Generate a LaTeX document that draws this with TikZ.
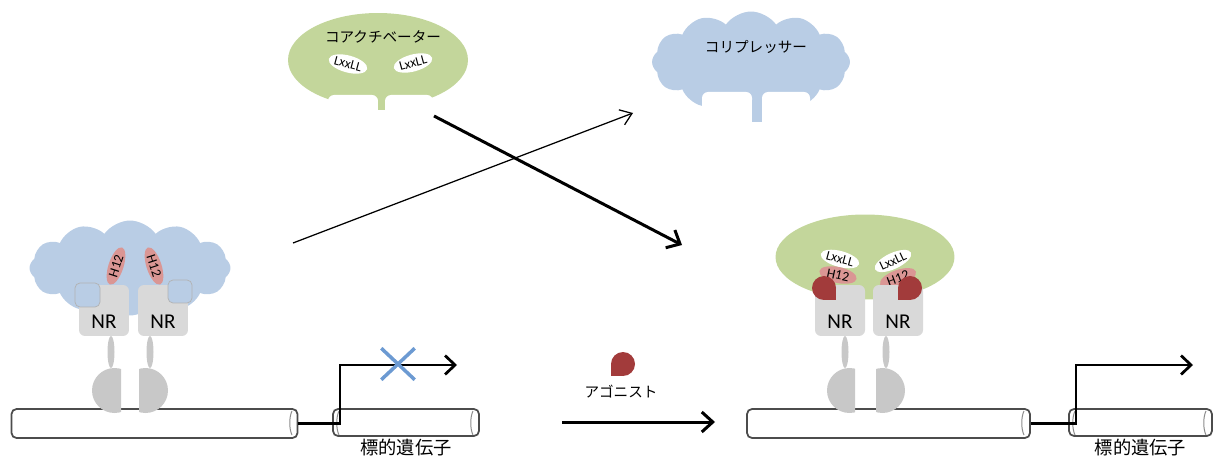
\documentclass[tikz,border=0pt]{standalone}
\usepackage{fontspec}
\setmainfont{Carlito}
\newfontfamily\jp{Noto Sans CJK JP}
\usepackage{xcolor}
\usetikzlibrary{shapes.geometric,shapes.symbols,shapes.misc,arrows.meta,positioning}
\definecolor{crblue}{HTML}{B9CDE5}
\definecolor{cagreen}{HTML}{C3D69B}
\definecolor{helixred}{HTML}{DA9694}
\definecolor{ligand}{HTML}{A23B3B}
\definecolor{nrgray}{HTML}{D9D9D9}
\definecolor{dbdgray}{HTML}{C8C8C8}
\definecolor{crossblue}{HTML}{6C9AD2}

\begin{document}
\begin{tikzpicture}[x=0.02cm, y=-0.02cm,
    every node/.style={inner sep=0pt},
    cloudy/.style={cloud, cloud puffs=12, cloud puff arc=110, cloud ignores aspect, fill=crblue},
    nrbox/.style={fill=nrgray, rounded corners=0.12cm, minimum width=1cm, minimum height=1.02cm,
        font=\fontsize{12}{12}\selectfont, text height=0.74cm, text depth=0pt},
    helix/.style={ellipse, fill=helixred, minimum width=0.78cm, minimum height=0.3cm,
        font=\fontsize{7.8}{8}\selectfont},
    motif/.style={ellipse, fill=white, minimum width=0.76cm, minimum height=0.34cm,
        font=\fontsize{7.5}{8}\selectfont},
    dna/.style={draw=black!70, fill=white, line width=0.035cm, rounded corners=0.1cm, minimum height=0.58cm},
    jptext/.style={font=\jp\fontsize{8.3}{10}\selectfont},
    genetext/.style={font=\jp\fontsize{10.4}{12}\selectfont, inner sep=1pt},
    bigarrow/.style={line width=0.06cm, -{Straight Barb[length=0.22cm, width=0.4cm]}},
    thinarrow/.style={line width=0.025cm, -{Straight Barb[length=0.22cm, width=0.32cm]}},
    promoter/.style={line width=0.055cm, -{Straight Barb[length=0.2cm, width=0.38cm]}}]
    \useasboundingbox (0,0) rectangle (1214,459);

    % coactivator
    \node[ellipse, fill=cagreen, minimum width=3.6cm, minimum height=1.88cm] (coact) at (378,60) {};
    \fill[white, rounded corners=0.12cm] (328,114) -- (328,95) -- (378,95) -- (378,114);
    \fill[white, rounded corners=0.12cm] (385,114) -- (385,95) -- (433,95) -- (433,114);
    \fill[cagreen] (378,100) rectangle (385,110);
    \node[jptext] (coacttext) at (383,37) {コアクチベーター};
    \node[motif, rotate=-15] (ca1) at (348,64) {LxxLL};
    \node[motif, rotate=15] (ca2) at (413,63) {LxxLL};

    % corepressor
    \node[cloudy, minimum width=3.96cm, minimum height=2.02cm] (corep) at (751,62) {};
    \fill[white, rounded corners=0.12cm] (702,126) -- (702,92) -- (752,92) -- (752,126);
    \fill[white, rounded corners=0.12cm] (762,126) -- (762,92) -- (810,92) -- (810,126);
    \fill[crblue] (752,100) rectangle (762,122);
    \node[jptext] (coreptext) at (756,47) {コリプレッサー};

    % crossing arrows
    \coordinate (caout) at (434,116);
    \coordinate (caend) at (682,245);
    \coordinate (crout) at (293,243);
    \coordinate (crend) at (633,113);
    \draw[thinarrow] (crout) -- (crend);
    \draw[bigarrow] (caout) -- (caend);

    % receptor dimer with corepressor
    \node[cloudy, minimum width=4.02cm, minimum height=1.9cm] (crL) at (130,268) {};
    \node[helix, rotate=72] (h12a) at (116,266) {H12};
    \node[helix, rotate=-72] (h12b) at (154,266) {H12};
    \node[nrbox] (nrA) at (104,310.5) {NR};
    \node[nrbox] (nrB) at (163,310.5) {NR};
    \filldraw[fill=crblue, draw=black!30, rounded corners=0.1cm] (75,283) rectangle (100,307);
    \filldraw[fill=crblue, draw=black!30, rounded corners=0.1cm] (168,280) rectangle (192,303);

    % receptor dimer with agonist and coactivator
    \node[ellipse, fill=cagreen, minimum width=3.58cm, minimum height=1.7cm] (coactR) at (865,257) {};
    \node[motif, minimum width=0.72cm, minimum height=0.32cm, rotate=-15] (mc) at (840,259) {LxxLL};
    \node[motif, minimum width=0.72cm, minimum height=0.32cm, rotate=25] (md) at (893,261) {LxxLL};
    \node[helix, minimum width=0.76cm, minimum height=0.32cm, rotate=-12] (h12c) at (838,275) {H12};
    \node[helix, minimum width=0.76cm, minimum height=0.32cm, rotate=20] (h12d) at (898,278) {H12};
    \node[nrbox] (nrC) at (840,310.5) {NR};
    \node[nrbox] (nrD) at (898,310.5) {NR};
    \fill[ligand] (824,288) circle (12);
    \fill[ligand] (824,288) rectangle (836,300);
    \fill[ligand] (910,288) circle (12);
    \fill[ligand] (910,288) rectangle (898,300);

    % DNA
    \node[dna, minimum width=5.72cm] (dnaL) at (154.5,423.5) {};
    \node[dna, minimum width=2.92cm, minimum height=0.54cm] (geneL) at (406,422.5) {};
    \node[dna, minimum width=5.66cm] (dnaR) at (888.5,423.5) {};
    \node[dna, minimum width=2.86cm, minimum height=0.54cm] (geneR) at (1140.5,422.5) {};
    \foreach \x in {292,473,1024,1206,339,1075}
        \draw[black!45, line width=0.02cm] (\x,411) .. controls (\x-3,417) and (\x-3,429) .. (\x,435);
    \node[genetext, below=0pt of geneL] (geneLtext) {標的遺伝子};
    \node[genetext, below=0pt of geneR] (geneRtext) {標的遺伝子};

    % stalks and DNA binding domains
    \foreach \x in {111,150,845,886}
        \fill[dbdgray] (\x,352) ellipse [x radius=3.5, y radius=16];
    \foreach \c/\a/\b in {114.5/85/121, 145.5/139/175, 849.5/820/855, 882.5/876/912}{
        \begin{scope}
            \clip (\a,360) rectangle (\b,420);
            \fill[dbdgray] (\c,390.5) circle (22.5);
        \end{scope}
    }

    % transcription
    \coordinate (tssL) at (340,365);
    \coordinate (tipL) at (457,365);
    \coordinate (tssR) at (1076,365);
    \coordinate (tipR) at (1193,365);
    \draw[promoter] (dnaL.east) -| (tssL) -- (tipL);
    \draw[promoter] (dnaR.east) -| (tssR) -- (tipR);
    \node[cross out, draw=crossblue, line width=0.07cm, minimum width=0.6cm, minimum height=0.56cm] (block) at (398,364) {};

    % agonist
    \fill[ligand] (623,364) circle (12);
    \fill[ligand] (623,364) rectangle (611,376);
    \node[jptext] (agotext) at (621,392) {アゴニスト};
    \coordinate (agoout) at (562,422);
    \coordinate (agoend) at (715,422);
    \draw[bigarrow] (agoout) -- (agoend);
\end{tikzpicture}
\end{document}
